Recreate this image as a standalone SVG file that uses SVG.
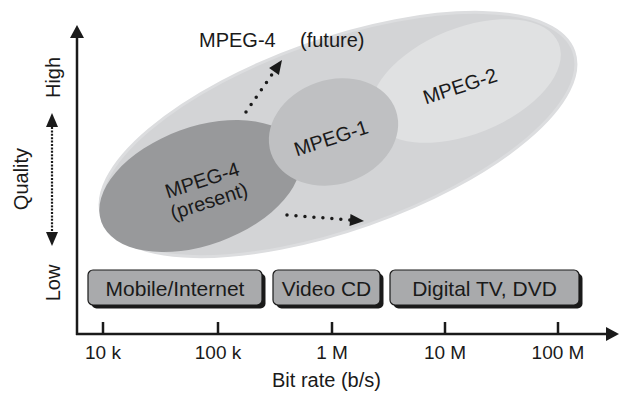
<svg xmlns="http://www.w3.org/2000/svg" width="621" height="394" viewBox="0 0 621 394">
<style>
text{font-family:"Liberation Sans",Arial,sans-serif;fill:#1a1a1a}
.lbl{font-size:20px}
.tick{font-size:19px;text-anchor:middle}
.box{font-size:21px;text-anchor:middle}
.ax{stroke:#1a1a1a;stroke-width:2.5;fill:none}
.dot{stroke:#1a1a1a;stroke-width:3.5;stroke-linecap:round;stroke-dasharray:0 9;fill:none}
.fine{stroke:#1a1a1a;stroke-width:2.2;stroke-dasharray:2 1.4;fill:none}
.bx{fill:#a9aaac;stroke:#1a1a1a;stroke-width:1.2}
.sh{fill:#1a1a1a}
</style>
<defs>
<marker id="ah" markerUnits="userSpaceOnUse" markerWidth="14" markerHeight="14" refX="0" refY="7" orient="auto-start-reverse" viewBox="0 0 14 14">
<path d="M0,0 L13,7 L0,14 z" fill="#1a1a1a"/>
</marker>
<marker id="ahs" markerUnits="userSpaceOnUse" markerWidth="14" markerHeight="12" refX="0" refY="6" orient="auto-start-reverse" viewBox="0 0 14 12">
<path d="M0,0 L14,6 L0,12 z" fill="#1a1a1a"/>
</marker>
</defs>
<g id="regions">
<ellipse id="all" cx="338" cy="134.5" rx="250" ry="95" transform="rotate(-19.4 338 134.5)" fill="#d3d4d6" stroke="#dcdddf" stroke-width="3"/>
<g id="mpeg2"><ellipse cx="466" cy="81" rx="100" ry="53" transform="rotate(-22 466 81)" fill="#e0e1e2"/>
<text class="lbl" text-anchor="middle" transform="translate(460,86) rotate(-18)" y="7">MPEG-2</text></g>
<g id="mpeg4p"><ellipse cx="200" cy="186" rx="105" ry="59" transform="rotate(-20 200 186)" fill="#98999b"/>
<text class="lbl" text-anchor="middle" transform="translate(205.5,190.5) rotate(-18)"><tspan x="0" y="-4">MPEG-4</tspan><tspan x="0" y="18">(present)</tspan></text></g>
<g id="mpeg1"><ellipse cx="333.5" cy="132" rx="66" ry="52" transform="rotate(-19 333.5 132)" fill="#bfc0c2"/>
<text class="lbl" text-anchor="middle" transform="translate(331,138) rotate(-18)" y="7">MPEG-1</text></g>
</g>
<g id="future"><text class="lbl" x="199" y="47">MPEG-4</text><text class="lbl" x="300" y="47">(future)</text></g>
<g id="axes">
<line class="ax" x1="77" y1="335" x2="77" y2="38" marker-end="url(#ah)"/>
<line class="ax" x1="76" y1="334" x2="606" y2="334" marker-end="url(#ah)"/>
<g class="ax"><line x1="103" y1="322" x2="103" y2="334"/><line x1="218" y1="322" x2="218" y2="334"/><line x1="332" y1="322" x2="332" y2="334"/><line x1="445" y1="322" x2="445" y2="334"/><line x1="558" y1="322" x2="558" y2="334"/></g>
<text class="tick" x="103" y="359">10 k</text>
<text class="tick" x="218" y="359">100 k</text>
<text class="tick" x="332" y="359">1 M</text>
<text class="tick" x="445" y="359">10 M</text>
<text class="tick" x="558" y="359">100 M</text>
<text class="lbl" text-anchor="middle" x="326.5" y="387">Bit rate (b/s)</text>
<text class="lbl" text-anchor="middle" transform="translate(60,77.5) rotate(-90)">High</text>
<text class="lbl" text-anchor="middle" transform="translate(28,179) rotate(-90)">Quality</text>
<text class="lbl" text-anchor="middle" transform="translate(60,283) rotate(-90)">Low</text>
</g>
<g id="connectors">
<line class="fine" x1="52" y1="127" x2="52" y2="232" marker-start="url(#ahs)" marker-end="url(#ahs)"/>
<line class="dot" x1="246" y1="112" x2="274" y2="71.5"/>
<path d="M282,60 L278.9,74.9 L269.1,68.1 z" fill="#1a1a1a"/>
<line class="dot" x1="287" y1="215" x2="350" y2="220"/>
<path d="M364,221 L349.5,226 L350.5,214 z" fill="#1a1a1a"/>
</g>
<g id="box-mobile"><rect class="sh" x="91.5" y="273.5" width="174" height="35" rx="5"/><rect class="bx" x="88" y="270" width="174" height="35" rx="5"/><text class="box" x="175" y="296">Mobile/Internet</text></g>
<g id="box-vcd"><rect class="sh" x="276.5" y="273.5" width="107" height="35" rx="5"/><rect class="bx" x="273" y="270" width="107" height="35" rx="5"/><text class="box" x="326.5" y="296">Video CD</text></g>
<g id="box-dtv"><rect class="sh" x="393.5" y="273.5" width="189" height="35" rx="5"/><rect class="bx" x="390" y="270" width="189" height="35" rx="5"/><text class="box" x="484.5" y="296">Digital TV, DVD</text></g>
</svg>
